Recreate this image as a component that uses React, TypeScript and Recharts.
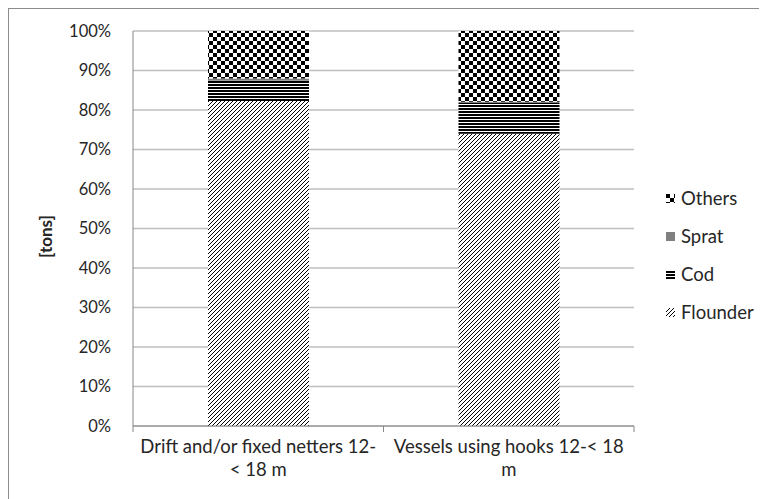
import React from 'react';
import { BarChart, Bar, XAxis, YAxis, CartesianGrid } from 'recharts';

// share of landings per fleet segment, in percent
const categories = ['Drift and/or fixed netters 12-< 18 m', 'Vessels using hooks 12-< 18 m'];
const categoryLines = [
  ['Drift and/or fixed netters 12-', '< 18 m'],
  ['Vessels using hooks 12-< 18', 'm'],
];
const flounder = [82.3, 74.0];
const cod = [5.1, 7.8];
const sprat = [0.6, 0.3];
const others = [12.0, 17.9];
const yTicks = [0, 10, 20, 30, 40, 50, 60, 70, 80, 90, 100];

const seriesKeys = ['Flounder', 'Cod', 'Sprat', 'Others'];
const legendOrder = ['Others', 'Sprat', 'Cod', 'Flounder'];

const data = categories.map((name, i) => ({
  name,
  Flounder: flounder[i],
  Cod: cod[i],
  Sprat: sprat[i],
  Others: others[i],
}));

const fills: Record<string, string> = {
  Flounder: 'url(#pFlounder)',
  Cod: 'url(#pCod)',
  Sprat: '#808080',
  Others: 'url(#pOthers)',
};

const FONT = 'Lato, "Open Sans", sans-serif';
const W = 758;
const H = 490;
const margin = { top: 22, right: 133, bottom: 0, left: 0 };
const Y_W = 124;
const X_H = 73;
const BAND = (W - margin.left - margin.right - Y_W) / categories.length;

if (typeof document !== 'undefined') document.body.style.overflow = 'hidden';

const CatTick = (props: any) => {
  const { x, y, index } = props;
  const lines = categoryLines[index] || [];
  const left = x - BAND / 2;
  return (
    <g>
      <line x1={left} y1={y} x2={left} y2={y + 6} stroke="#868686" />
      {index === categories.length - 1 && (
        <line x1={x + BAND / 2} y1={y} x2={x + BAND / 2} y2={y + 6} stroke="#868686" />
      )}
      {lines.map((t, i) => (
        <text key={i} x={x} y={y + 27 + i * 23} textAnchor="middle" fontSize={18.5} fill="#262626" fontFamily={FONT}>
          {t}
        </text>
      ))}
    </g>
  );
};

const YLabel = (props: any) => {
  const vb = props.viewBox || {};
  const cx = 36;
  const cy = vb.y + vb.height / 2 + 8;
  return (
    <text
      x={cx}
      y={cy}
      transform={`rotate(-90 ${cx} ${cy})`}
      textAnchor="middle"
      dominantBaseline="central"
      fontSize={17}
      fontWeight="bold"
      fill="#262626"
      fontFamily={FONT}
    >
      [tons]
    </text>
  );
};

const LegendIcon = ({ k }: { k: string }) => (
  <svg width={9} height={9} style={{ marginRight: 6 }}>
    {k === 'Cod' ? (
      <g fill="#000">
        <rect x={0} y={1} width={9} height={2} />
        <rect x={0} y={4} width={9} height={2} />
        <rect x={0} y={7} width={9} height={2} />
      </g>
    ) : (
      <rect x={0} y={0} width={9} height={9} fill={fills[k]} />
    )}
  </svg>
);

export default function App() {
  return (
    <div
      style={{
        position: 'relative',
        width: W,
        height: H,
        borderLeft: '1px solid #8c8c8c',
        borderTop: '1px solid #8c8c8c',
        background: '#fff',
        fontFamily: FONT,
      }}
    >
      <BarChart width={W} height={H} data={data} margin={margin} barSize={101}>
        <defs>
          <pattern id="pFlounder" patternUnits="userSpaceOnUse" width={4} height={4}>
            <rect width={4} height={4} fill="#fff" />
            <path d="M-1,1 l2,-2 M0,4 l4,-4 M3,5 l2,-2" stroke="#000" strokeWidth={1} />
          </pattern>
          <pattern id="pCod" patternUnits="userSpaceOnUse" width={4} height={3}>
            <rect width={4} height={3} fill="#fff" />
            <rect width={4} height={2} fill="#000" />
          </pattern>
          <pattern id="pOthers" patternUnits="userSpaceOnUse" width={8} height={8}>
            <rect width={8} height={8} fill="#fff" />
            <rect width={4} height={4} fill="#000" />
            <rect x={4} y={4} width={4} height={4} fill="#000" />
          </pattern>
        </defs>
        <CartesianGrid vertical={false} stroke="#bfbfbf" strokeWidth={1.5} />
        <XAxis
          dataKey="name"
          height={X_H}
          tickLine={false}
          tickSize={0}
          tickMargin={0}
          axisLine={{ stroke: '#868686' }}
          tick={<CatTick />}
          interval={0}
        />
        <YAxis
          width={Y_W}
          domain={[0, 100]}
          ticks={yTicks}
          tickFormatter={(v: number) => `${v}%`}
          tickLine={false}
          tickSize={8}
          tickMargin={14}
          axisLine={{ stroke: '#868686' }}
          tick={{ fontSize: 16.5, fill: '#262626', fontFamily: FONT }}
          label={<YLabel />}
        />
        {seriesKeys.map((k) => (
          <Bar key={k} dataKey={k} stackId="a" fill={fills[k]} isAnimationActive={false} />
        ))}
      </BarChart>
      <div style={{ position: 'absolute', left: 657, top: 170 }}>
        {legendOrder.map((k) => (
          <div
            key={k}
            style={{ display: 'flex', alignItems: 'center', height: 38, fontSize: 18.5, color: '#262626' }}
          >
            <LegendIcon k={k} />
            {k}
          </div>
        ))}
      </div>
    </div>
  );
}
